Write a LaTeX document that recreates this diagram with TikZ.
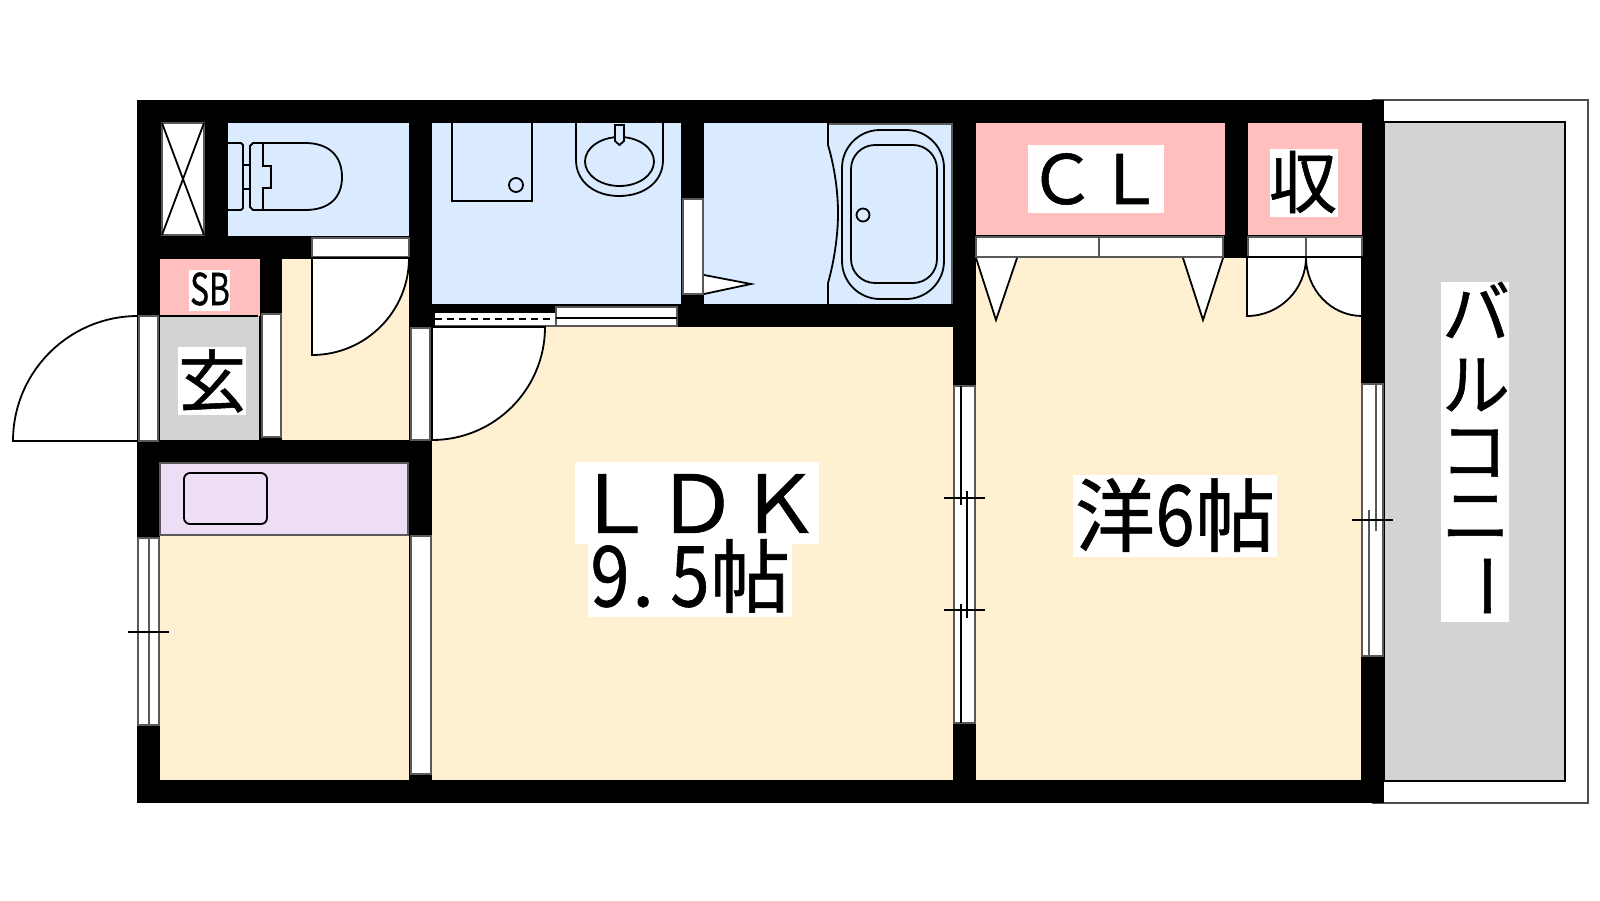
\documentclass[tikz,border=0pt]{standalone}
\usepackage{fontspec}
\setmainfont{Noto Sans CJK JP}[FakeBold=0.8]
\definecolor{bluefl}{HTML}{DAEBFF}
\definecolor{beigefl}{HTML}{FEF0D0}
\definecolor{pinkfl}{HTML}{FFBFBF}
\definecolor{lilacfl}{HTML}{EDDDF5}
\definecolor{greyfl}{HTML}{D3D3D3}
\newcommand{\hw}[1]{\makebox[20pt]{\scalebox{0.88}[1.05]{#1}}}
\tikzset{
  ln/.style={draw=black,line width=0.9pt},
  thin ln/.style={draw=black!65,line width=0.8pt},
  frame/.style={fill=white,draw=black!65,line width=0.8pt},
  lab/.style={inner sep=0pt,font=\fontsize{34}{34}\selectfont,text=black},
  big/.style={inner sep=0pt,font=\fontsize{40}{40}\selectfont,text=black},
}
\begin{document}
\begin{tikzpicture}[x=0.5pt,y=-0.5pt]
\useasboundingbox (0,0) rectangle (1600,900);
% balcony
\draw[frame,draw=black!70] (1372,100) -- (1588,100) -- (1588,803) -- (1372,803);
\draw[ln,fill=greyfl] (1384,122) rectangle (1565,781);
% walls
\fill[black] (137,100) rectangle (1384,803);
% rooms
\fill[bluefl] (228,123) rectangle (409,236);
\fill[bluefl] (432,123) rectangle (681,304);
\fill[bluefl] (704,123) rectangle (952,304);
\fill[pinkfl] (976,123) rectangle (1225,235);
\fill[pinkfl] (1248,123) rectangle (1362,235);
\fill[pinkfl] (160,259) rectangle (260,316);
\fill[greyfl] (160,316) rectangle (259,440);
\fill[beigefl] (282,259) rectangle (409,440);
\fill[beigefl] (432,327) rectangle (953,780);
\fill[beigefl] (976,258) rectangle (1361,780);
\fill[beigefl] (160,535) rectangle (409,780);
\draw[thin ln,fill=lilacfl] (160,463) rectangle (408,535);
\draw[ln,rounded corners=3pt] (184,473) rectangle (267,524);
% shaft
\draw[frame] (162,123) rectangle (204,235);
\draw[ln] (162,123) -- (204,235) (204,123) -- (162,235);
% toilet
\draw[ln] (228,143) -- (241,143) -- (243,145) -- (243,208) -- (241,210) -- (228,210);
\draw[ln] (243,165) -- (251,165) (243,189) -- (251,189);
\draw[ln] (305,143) -- (253,143) -- (250,146) -- (250,207) -- (253,210) -- (305,210) .. controls (330,210) and (342,197) .. (342,177) .. controls (342,157) and (330,143) .. (305,143);
\draw[ln] (263,143) -- (263,166) -- (271,166) -- (271,188) -- (263,188) -- (263,210);
% toilet door
\draw[frame] (312,238) rectangle (409,257);
\draw[ln,fill=white] (312,258) -- (409,258) arc[start angle=0,end angle=90,radius=97] -- cycle;
% washroom
\draw[ln] (452,123) -- (452,201) -- (532,201) -- (532,123);
\draw[ln] (516,185) circle[radius=7];
\draw[ln] (576,123) -- (576,160) .. controls (576,182) and (595,196) .. (619,196) .. controls (644,196) and (663,182) .. (663,160) -- (663,123);
\draw[ln] (619.5,161.5) ellipse[x radius=34.5,y radius=24.5];
\draw[ln,fill=bluefl] (615,125) -- (624,125) -- (624,141) -- (619.5,145) -- (615,141) -- cycle;
% sliding door of washroom
\fill[white] (435,313) rectangle (555,326);
\draw[draw=black,dashed,dash pattern=on 3.5pt off 2.5pt,line width=1.1pt] (435,319) -- (555,319);
\draw[frame] (556,307) rectangle (677,326);
\draw[ln] (556,318) -- (677,318);
\draw[thin ln] (435,326) -- (556,326);
% door frame between washroom and bath
\draw[frame] (683,199) rectangle (703,294);
\draw[ln,fill=white] (704,275) -- (751,284) -- (704,294);
% bath
\draw[thin ln] (828,124) -- (952,124) -- (952,304);
\draw[ln] (828,123) -- (828,145) .. controls (834,165) and (838,190) .. (838,213) .. controls (838,236) and (834,262) .. (828,283) -- (828,304);
\draw[ln,rounded corners=19pt] (842,130) rectangle (944,299);
\draw[ln,rounded corners=12pt] (851,145) rectangle (937,283);
\draw[ln] (863,215) circle[radius=6.5];
% closet
\draw[frame] (976,237) rectangle (1223,257);
\draw[thin ln] (1099,237) -- (1099,257);
\draw[ln,fill=white] (976,258) -- (996,320) -- (1017,258);
\draw[ln,fill=white] (1183,258) -- (1203,320) -- (1223,258);
\draw[frame] (1248,237) rectangle (1362,257);
\draw[thin ln] (1306,237) -- (1306,257);
\draw[ln,fill=white] (1247,257) -- (1306,257) arc[start angle=0,end angle=90,radius=59] -- cycle;
\draw[ln,fill=white] (1362,257) -- (1306,257) arc[start angle=180,end angle=90,x radius=56,y radius=59] -- cycle;
% LDK door
\draw[frame] (411,328) rectangle (430,440);
\draw[ln,fill=white] (432,327) -- (545,327) arc[start angle=0,end angle=90,radius=113] -- cycle;
% entrance
\draw[ln,fill=white] (138,441) -- (13,441) arc[start angle=180,end angle=270,radius=125] -- cycle;
\draw[frame] (139,316) rectangle (158,441);
\draw[ln] (160,316) -- (258,316);
\draw[frame] (262,314) rectangle (281,437);
% kitchen window and door frame
\draw[frame] (138,538) rectangle (159,725);
\draw[thin ln] (149,538) -- (149,725);
\draw[ln] (128,632) -- (169,632);
\draw[frame] (411,536) rectangle (431,774);
% LDK window
\draw[frame] (954,386) rectangle (975,723);
\draw[ln] (961,386) -- (961,505) (961,604) -- (961,723) (967,491) -- (967,618);
\draw[ln] (944,498) -- (985,498) (944,610) -- (985,610);
% bedroom window
\draw[frame] (1362,384) rectangle (1383,656);
\draw[thin ln] (1369,510) -- (1369,656) (1376,384) -- (1376,531);
\draw[ln,line width=0.7pt] (1352,520) -- (1393,520);
% label backgrounds
\fill[white] (1028,145) rectangle (1164,213);
\fill[white] (1270,149) rectangle (1338,217);
\fill[white] (189,270) rectangle (230,311);
\fill[white] (178,347) rectangle (246,415);
\fill[white] (575,462) rectangle (819,544);
\fill[white] (588,544) rectangle (792,617);
\fill[white] (1073,475) rectangle (1277,557);
\fill[white] (1441,282) rectangle (1509,622);
% labels
\node[lab] (cl) at (1096,179) {ＣＬ};
\node[lab] (shu) at (1303,182) {収};
\node[inner sep=0pt,font=\fontsize{22}{22}\selectfont] (sb) at (210,289) {\scalebox{0.72}[1]{SB}};
\node[lab] (gen) at (212,381) {玄};
\node[big,xscale=1.03] (ldk) at (697,503.5) {ＬＤＫ};
\node[big] (jo) at (690,576) {\hw{9}\makebox[20pt][l]{\hspace{1pt}.}\hw{5}帖};
\node[big] (yo) at (1175,515) {洋\hw{6}帖};
\node[lab] (b1) at (1476,310) {バ};
\node[lab] (b2) at (1476,385) {ル};
\node[lab] (b3) at (1474,453) {コ};
\node[lab] (b4) at (1476,518) {ニ};
\node[lab,rotate=-90] (b5) at (1476,586) {ー};
\end{tikzpicture}
\end{document}
